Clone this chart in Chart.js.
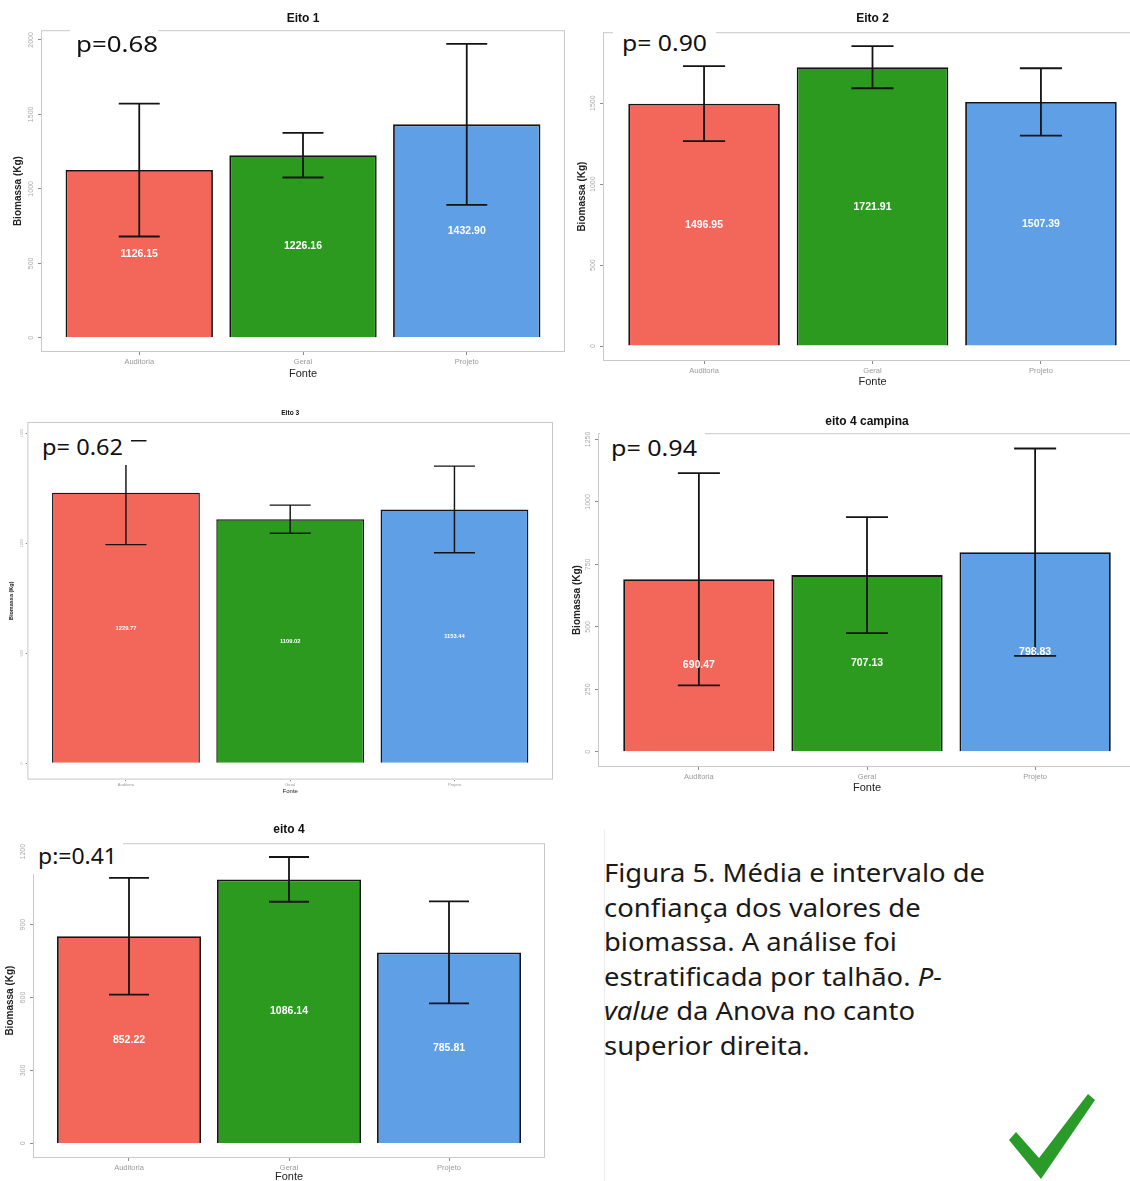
<!DOCTYPE html>
<html>
<head>
<meta charset="utf-8">
<script src="https://cdn.jsdelivr.net/npm/chart.js@4.4.1/dist/chart.umd.min.js"></script>
<style>
  body { margin:0; width:1130px; height:1181px; background:#fff; position:relative; overflow:hidden; }
  .panel { position:absolute; }
  .pval { position:absolute; background:#fff; font-family:"Noto Sans", sans-serif; font-size:22px; color:#111; white-space:nowrap; }
  .pval span { position:absolute; left:0; top:0; display:inline-block; transform-origin:left top; }
  .caption { position:absolute; left:604px; top:855px; font-family:"Noto Sans", sans-serif; font-size:25px; line-height:34.5px; color:#1a1a1a; white-space:nowrap; transform-origin:left top; }
  .vline { position:absolute; left:604px; top:830px; width:1px; height:351px; background:#ececec; }
</style>
</head>
<body>
<div class="vline"></div>
<div class="caption" id="caption">
  <div><span id="cap1">Figura 5. Média e intervalo de</span></div>
  <div>confiança dos valores de</div>
  <div>biomassa. A análise foi</div>
  <div>estratificada por talhão. <i>P-</i></div>
  <div><i>value</i> da Anova no canto</div>
  <div>superior direita.</div>
</div>
<svg style="position:absolute;left:1000px;top:1088px" width="110" height="93">
  <polygon points="9,52 16,44 39,70 88,6 95,12 41,91" fill="#2a9a28"/>
</svg>
<script>
const categories = ['Auditoria', 'Geral', 'Projeto'];
const barColors = ['#f3665a', '#2b9a1f', '#5e9fe5'];

// means and half-width of the confidence interval, per eito
const eito1Mean = [1126.15, 1226.16, 1432.90];
const eito1Err  = [446, 150, 540];
const eito1Ticks = [0, 500, 1000, 1500, 2000];

const eito2Mean = [1496.95, 1721.91, 1507.39];
const eito2Err  = [231, 130, 208];
const eito2Ticks = [0, 500, 1000, 1500];

const eito3Mean = [1229.77, 1109.02, 1153.44];
const eito3Err  = [236, 64, 197];
const eito3Ticks = [0, 500, 1000, 1500];

const eito4cMean = [690.47, 707.13, 798.83];
const eito4cErr  = [425, 232, 415];
const eito4cTicks = [0, 250, 500, 750, 1000, 1250];

const eito4Mean = [852.22, 1086.14, 785.81];
const eito4Err  = [240, 92, 210];
const eito4Ticks = [0, 300, 600, 900, 1200];

const pValues = ['p=0.68', 'p= 0.90', 'p= 0.62', 'p= 0.94', 'p:=0.41'];

// layout: frame = [left, top, right, bottom] of the plot panel on the page
const panels = [
  { title:'Eito 1', mean:eito1Mean, err:eito1Err, ticks:eito1Ticks, ymin:-95, ymax:2065,
    frame:[41,30,565,352], titleY:18, yTitleX:18, fonteY:374, s:1, pbox:[70,22,158,64], ptext:[76,82] },
  { title:'Eito 2', mean:eito2Mean, err:eito2Err, ticks:eito2Ticks, ymin:-92, ymax:1938,
    frame:[603,32,1142,361], titleY:18, yTitleX:582, fonteY:382, s:1, pbox:[613,22,716,62], ptext:[622,85] },
  { title:'Eito 3', mean:eito3Mean, err:eito3Err, ticks:eito3Ticks, ymin:-74, ymax:1551,
    frame:[27,422,553,780], titleY:413, yTitleX:11, fonteY:792, s:0.55, pbox:[33,426,131,465], ptext:[42,81] },
  { title:'eito 4 campina', mean:eito4cMean, err:eito4cErr, ticks:eito4cTicks, ymin:-61, ymax:1275,
    frame:[598,433,1136,767], titleY:421, yTitleX:577, fonteY:788, s:1, pbox:[600,424,705,470], ptext:[611,86] },
  { title:'eito 4', mean:eito4Mean, err:eito4Err, ticks:eito4Ticks, ymin:-60, ymax:1235,
    frame:[33,843,545,1158], titleY:829, yTitleX:10, fonteY:1177, s:1, pbox:[30,836,123,874], ptext:[38,79] }
];

Chart.defaults.font.family = '"Liberation Sans", Arial, sans-serif';

const framePlugin = {
  id: 'frame',
  beforeDatasetsDraw(chart) {
    const { ctx, chartArea: a } = chart;
    ctx.save();
    ctx.strokeStyle = '#c9c9c9';
    ctx.lineWidth = 1;
    ctx.strokeRect(a.left + 0.5, a.top + 0.5, a.right - a.left - 1, a.bottom - a.top - 1);
    ctx.restore();
  }
};

function errorPlugin(p) {
  return {
    id: 'errbars',
    afterDatasetsDraw(chart) {
      const { ctx, scales: { x, y } } = chart;
      const half = x.getPixelForValue(1.125) - x.getPixelForValue(1);
      ctx.save();
      ctx.strokeStyle = '#141414';
      ctx.lineWidth = 1.8 * Math.max(p.s, 0.8);
      p.mean.forEach((m, i) => {
        const cx = x.getPixelForValue(i + 1);
        const yt = y.getPixelForValue(m + p.err[i]);
        const yb = y.getPixelForValue(m - p.err[i]);
        ctx.beginPath();
        ctx.moveTo(cx, yt); ctx.lineTo(cx, yb);
        ctx.moveTo(cx - half, yt); ctx.lineTo(cx + half, yt);
        ctx.moveTo(cx - half, yb); ctx.lineTo(cx + half, yb);
        ctx.stroke();
      });
      ctx.fillStyle = '#fff';
      ctx.font = 'bold ' + (10.5 * p.s) + 'px "Liberation Sans", Arial, sans-serif';
      ctx.textAlign = 'center';
      ctx.textBaseline = 'middle';
      p.mean.forEach((m, i) => {
        ctx.fillText(m.toFixed(2), x.getPixelForValue(i + 1), y.getPixelForValue(m / 2));
      });
      ctx.restore();
    }
  };
}

function makePanel(p, idx) {
  const [fl, ft, fr, fb] = p.frame;
  const s = p.s;
  const titleFont = { size: 12 * s, weight: 'bold', lineHeight: 1.2 };
  const tlh = titleFont.size * 1.2;
  const fonteFont = { size: 11 * s, lineHeight: 1.2 };
  const yTitleFont = { size: 10 * s, weight: 'bold', lineHeight: 1.2 };
  const L = fl - p.yTitleX + 8 * s;
  const B = p.fonteY - fb + 8 * s;
  const top = p.titleY - tlh / 2 - 2;
  const left = fl - L;
  const W = fr - left + 2;
  const H = fb - top + B;

  const div = document.createElement('div');
  div.className = 'panel';
  div.style.left = left + 'px';
  div.style.top = top + 'px';
  const canvas = document.createElement('canvas');
  canvas.width = W; canvas.height = H;
  div.appendChild(canvas);
  document.body.appendChild(div);

  const tickGrid = { display: true, drawOnChartArea: false, drawTicks: true, offset: false,
                     tickLength: 3 * s, color: '#8d8d8d' };

  new Chart(canvas, {
    type: 'bar',
    data: {
      datasets: [{
        data: p.mean.map((v, i) => ({ x: i + 1, y: v })),
        backgroundColor: barColors,
        borderColor: '#151515',
        borderWidth: 1.8 * Math.max(s, 0.8),
        categoryPercentage: 1,
        barPercentage: 0.9
      }]
    },
    options: {
      responsive: false,
      animation: false,
      devicePixelRatio: 1,
      layout: { padding: { left: 0, right: 2, top: 0, bottom: 0 } },
      plugins: {
        legend: { display: false },
        tooltip: { enabled: false },
        title: { display: true, fullSize: false, text: p.title, color: '#111', font: titleFont,
                 padding: { top: 2, bottom: ft - p.titleY - tlh / 2 } }
      },
      scales: {
        x: {
          type: 'linear', min: 0.4, max: 3.6, offset: false,
          afterBuildTicks: sc => { sc.ticks = categories.map((c, i) => ({ value: i + 1 })); },
          afterFit: sc => { sc.height = B; },
          ticks: { callback: v => categories[v - 1], font: { size: 7.5 * s }, color: '#9a9a9a',
                   padding: 2 * s, maxRotation: 0, autoSkip: false },
          grid: tickGrid,
          border: { display: false },
          title: { display: true, text: 'Fonte', color: '#222', font: fonteFont,
                   padding: { top: 0, bottom: B - (p.fonteY - fb) - fonteFont.size * 0.6 } }
        },
        y: {
          min: p.ymin, max: p.ymax,
          afterBuildTicks: sc => { sc.ticks = p.ticks.map(v => ({ value: v })); },
          afterFit: sc => { sc.width = L; },
          ticks: { callback: v => String(v), minRotation: 90, maxRotation: 90, crossAlign: 'center',
                   font: { size: 7 * s }, color: '#ababab', padding: -1 * s },
          grid: tickGrid,
          border: { display: false },
          title: { display: true, text: 'Biomassa (Kg)', color: '#222', font: yTitleFont,
                   padding: { top: 8 * s - yTitleFont.size * 0.6, bottom: 0 } }
        }
      }
    },
    plugins: [framePlugin, errorPlugin(p)]
  });

  // p-value label, white box over the panel corner
  const [bl, bt, br, bb] = p.pbox;
  const box = document.createElement('div');
  box.className = 'pval';
  box.style.left = bl + 'px'; box.style.top = bt + 'px';
  box.style.width = (br - bl) + 'px'; box.style.height = (bb - bt) + 'px';
  const span = document.createElement('span');
  span.textContent = pValues[idx];
  box.appendChild(span);
  document.body.appendChild(box);
  const w = span.getBoundingClientRect().width;
  const h = span.getBoundingClientRect().height;
  span.style.left = (p.ptext[0] - bl) + 'px';
  span.style.top = ((bb - bt) - h) / 2 + 'px';
  span.style.transform = 'scaleX(' + (p.ptext[1] / w) + ')';
}

panels.forEach(makePanel);

const cap = document.getElementById('caption');
const cw = document.getElementById('cap1').getBoundingClientRect().width;
cap.style.transform = 'scaleX(' + (381 / cw) + ')';
</script>
</body>
</html>
